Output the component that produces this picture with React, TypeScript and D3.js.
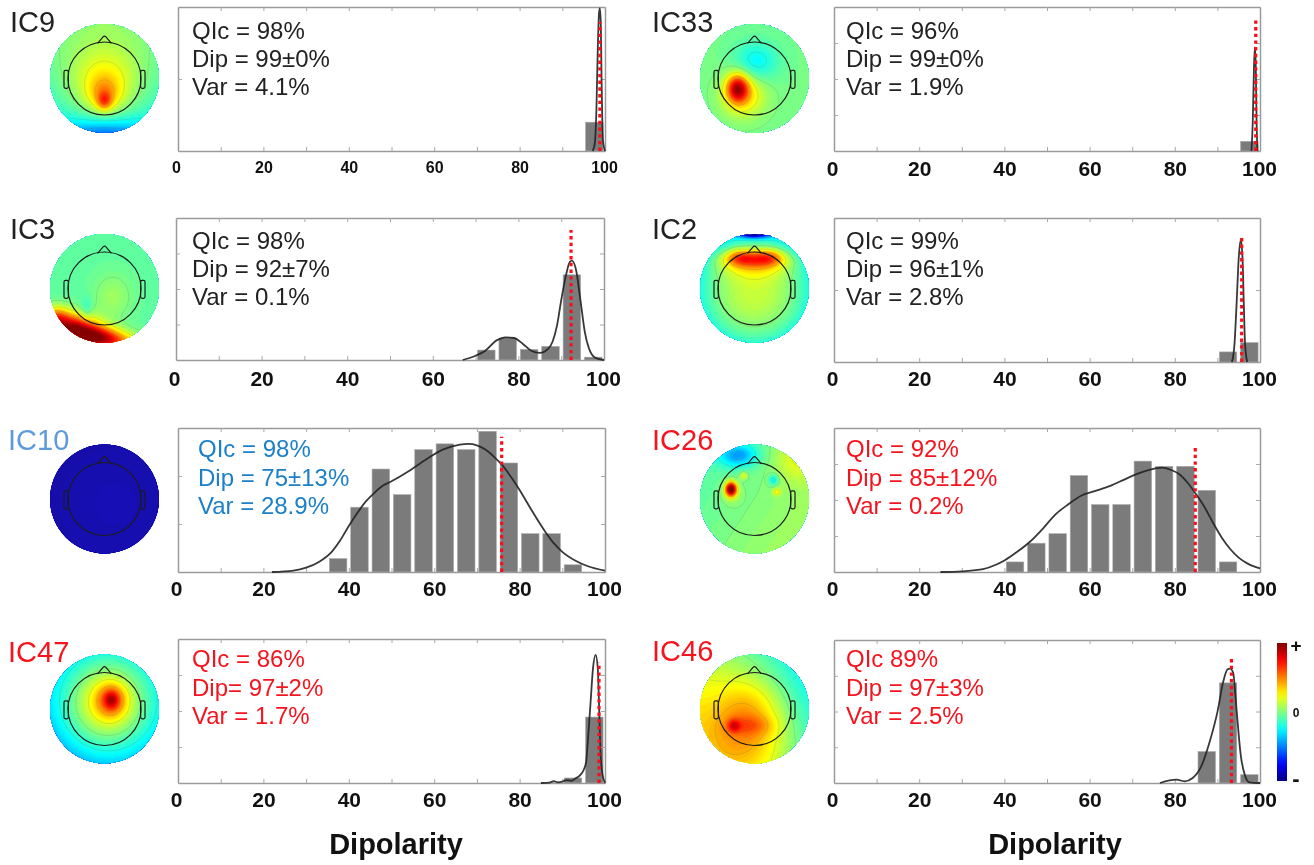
import React, { useEffect, useMemo, useRef } from 'react';
import * as d3 from 'd3';

// ---------- values ----------
// heights are fractions of the panel height, bins are 5 wide
const ic9Bins = [95];
const ic9Heights = [0.2];
const ic9CurveX = [97.1, 97.6, 98, 98.3, 98.6, 98.8, 99, 99.2, 99.5, 100];
const ic9CurveY = [0, 0.05, 0.3, 0.7, 0.96, 0.99, 0.9, 0.5, 0.08, 0];

const ic33Bins = [95];
const ic33Heights = [0.067];
const ic33CurveX = [98, 98.3, 98.6, 98.8, 99, 99.2, 99.4];
const ic33CurveY = [0, 0.2, 0.6, 0.72, 0.6, 0.2, 0];

const ic3Bins = [70, 75, 80, 85, 90, 95];
const ic3Heights = [0.07, 0.155, 0.075, 0.096, 0.6, 0.02];
const ic3CurveX = [67, 70, 72, 75, 77, 79, 81, 83, 85, 87, 88, 89, 90, 91, 92, 92.5, 93.5, 94.5, 95.5, 96.5, 98, 100];
const ic3CurveY = [0, 0.03, 0.06, 0.14, 0.16, 0.155, 0.115, 0.065, 0.05, 0.08, 0.13, 0.24, 0.42, 0.58, 0.69, 0.7, 0.63, 0.42, 0.2, 0.08, 0.015, 0];

const ic2Bins = [90, 95];
const ic2Heights = [0.07, 0.135];
const ic2CurveX = [93.4, 94, 94.5, 95, 95.5, 95.9, 96.2, 96.5, 97];
const ic2CurveY = [0, 0.12, 0.4, 0.72, 0.85, 0.72, 0.4, 0.12, 0];

const ic10Bins = [35, 40, 45, 50, 55, 60, 65, 70, 75, 80, 85, 90];
const ic10Heights = [0.093, 0.45, 0.715, 0.537, 0.85, 0.89, 0.85, 0.977, 0.757, 0.266, 0.266, 0.05];
const ic10CurveX = [22, 27, 30, 33, 36, 38, 40, 42, 44, 46, 48, 50, 54, 58, 62, 66, 68, 70, 72, 74, 76, 78, 80, 83, 86, 88, 90, 93, 96, 100];
const ic10CurveY = [0, 0.01, 0.03, 0.07, 0.14, 0.22, 0.32, 0.41, 0.49, 0.55, 0.6, 0.63, 0.7, 0.78, 0.85, 0.885, 0.89, 0.88, 0.85, 0.8, 0.74, 0.66, 0.57, 0.42, 0.28, 0.2, 0.14, 0.08, 0.04, 0.01];

const ic26Bins = [40, 45, 50, 55, 60, 65, 70, 75, 80, 85, 90];
const ic26Heights = [0.07, 0.2, 0.266, 0.67, 0.468, 0.468, 0.77, 0.734, 0.734, 0.567, 0.07];
const ic26CurveX = [25, 30, 35, 38, 40, 43, 46, 49, 52, 55, 58, 61, 65, 68, 71, 74, 77, 79, 81, 83, 85, 87, 89, 91, 93, 95, 97, 100];
const ic26CurveY = [0, 0.005, 0.02, 0.05, 0.08, 0.14, 0.21, 0.3, 0.4, 0.47, 0.53, 0.56, 0.6, 0.64, 0.68, 0.71, 0.725, 0.71, 0.68, 0.62, 0.54, 0.45, 0.34, 0.24, 0.16, 0.1, 0.06, 0.025];

const ic47Bins = [90, 95];
const ic47Heights = [0.035, 0.458];
const ic47CurveX = [85, 87, 88, 89, 90, 91, 92, 93, 94, 95, 95.6, 96, 96.6, 97.2, 97.8, 98.3, 98.6, 98.9, 99.3, 100];
const ic47CurveY = [0, 0.003, 0.012, 0.005, 0.01, 0.02, 0.015, 0.03, 0.05, 0.09, 0.15, 0.3, 0.55, 0.8, 0.89, 0.8, 0.55, 0.25, 0.08, 0];

const ic46Bins = [85, 90, 95];
const ic46Heights = [0.22, 0.7, 0.058];
const ic46CurveX = [76.5, 80.4, 82.3, 84.2, 86.2, 88.1, 90.1, 91.3, 92.4, 93, 93.7, 94.5, 95.5, 96.5, 97.5, 100];
const ic46CurveY = [0, 0.023, 0.012, 0.035, 0.116, 0.28, 0.51, 0.7, 0.795, 0.8, 0.77, 0.51, 0.19, 0.05, 0.005, 0];

const names = ['IC9', 'IC33', 'IC3', 'IC2', 'IC10', 'IC26', 'IC47', 'IC46'];
const qic = ['QIc = 98%', 'QIc = 96%', 'QIc = 98%', 'QIc = 99%', 'QIc = 98%', 'QIc = 92%', 'QIc = 86%', 'QIc 89%'];
const dip = ['Dip = 99±0%', 'Dip = 99±0%', 'Dip = 92±7%', 'Dip = 96±1%', 'Dip = 75±13%', 'Dip = 85±12%', 'Dip= 97±2%', 'Dip = 97±3%'];
const vars = ['Var = 4.1%', 'Var = 1.9%', 'Var = 0.1%', 'Var = 2.8%', 'Var = 28.9%', 'Var = 0.2%', 'Var = 1.7%', 'Var = 2.5%'];
// where the red dotted line stands and how high it goes
const dipX = [98.8, 99, 92.3, 95.7, 75.8, 84.8, 98.6, 93.3];
const dipTop = [0.896, 0.907, 0.915, 0.88, 0.94, 0.877, 0.838, 0.884];

const xTicks = [0, 10, 20, 30, 40, 50, 60, 70, 80, 90, 100];
const yTicksHalf = [0.5];
const yTicksThird = [1 / 3, 2 / 3];
const yTicksQuarter = [0.25, 0.5, 0.75];

// scalp maps: base level, left-right slope, front-back slope, radial term
const topoBase = [
  [0.49, 0, -0.06, -0.03],
  [0.49, 0, 0, 0],
  [0.47, 0, 0, 0],
  [0.57, 0, 0.02, -0.17],
  [0.06, 0, 0, 0],
  [0.5, 0.03, 0.02, 0],
  [0.49, 0.02, -0.04, -0.13],
  [0.52, -0.11, 0.06, 0],
];
// and bumps on top: x, y, spread x, spread y, height
const topoBumps = [
  [[0, 1.12, 0.6, 0.25, -0.2], [0, 0.1, 0.42, 0.42, 0.15], [0, 0.3, 0.2, 0.22, 0.14], [0, 0.42, 0.09, 0.11, 0.16]],
  [[-0.2, 0.3, 0.28, 0.28, 0.17], [-0.31, 0.18, 0.14, 0.18, 0.36], [0.03, -0.3, 0.28, 0.26, -0.12]],
  [[-0.55, 0.78, 0.3, 0.2, 0.52], [-0.9, 0.55, 0.18, 0.15, 0.28], [-0.1, 0.9, 0.28, 0.14, 0.35], [0.3, 1.0, 0.3, 0.13, 0.2], [-0.33, 0.4, 0.08, 0.16, -0.07], [0.15, 0.15, 0.25, 0.3, 0.06]],
  [[0, -1.02, 0.2, 0.06, -0.5], [0, -0.55, 0.38, 0.12, 0.26], [-0.3, -0.58, 0.15, 0.1, 0.1], [0.3, -0.58, 0.15, 0.1, 0.1], [0, -0.42, 0.5, 0.18, 0.1]],
  [[0.2, 0.1, 0.5, 0.5, 0.02]],
  [[-0.3, -0.8, 0.25, 0.15, -0.2], [0.8, -0.75, 0.3, 0.3, 0.1], [-0.43, -0.18, 0.07, 0.09, 0.5], [-0.43, -0.13, 0.12, 0.14, 0.08], [0.35, -0.35, 0.06, 0.07, -0.14], [0.41, -0.13, 0.05, 0.05, 0.13], [-0.2, -0.43, 0.05, 0.05, 0.12]],
  [[0.05, -0.1, 0.38, 0.4, 0.17], [0.13, -0.17, 0.18, 0.2, 0.2], [0.13, -0.17, 0.08, 0.1, 0.12]],
  [[-0.1, 0.22, 0.45, 0.55, 0.2], [-0.38, 0.31, 0.08, 0.08, 0.15], [-0.05, 0.3, 0.3, 0.12, 0.07]],
];
const contourLevels = [0.3, 0.4, 0.5, 0.6, 0.7, 0.8, 0.9];

// ---------- layout ----------
const black = '#222222';
const red = '#f5141e';
const blue = '#1c80c8';
const layouts = [
  { x0: 178, x1: 605, y0: 7, y1: 151, hx: 104.5, hy: 78.5, lx: 10, ly: 32, sx: 192, sy: [39, 67, 95], tf: 16, tb: 173, col: black, lab: black, yt: yTicksHalf },
  { x0: 834, x1: 1260, y0: 7, y1: 151, hx: 754.5, hy: 78.5, lx: 652, ly: 32, sx: 846, sy: [39, 67, 95], tf: 21, tb: 176, col: black, lab: black, yt: yTicksQuarter },
  { x0: 176, x1: 604, y0: 218, y1: 360, hx: 104.5, hy: 288.5, lx: 10, ly: 239, sx: 192, sy: [249, 277, 305], tf: 21, tb: 386, col: black, lab: black, yt: yTicksQuarter },
  { x0: 834, x1: 1260, y0: 218, y1: 362, hx: 754.5, hy: 288.5, lx: 652, ly: 239, sx: 846, sy: [249, 277, 305], tf: 21, tb: 386, col: black, lab: black, yt: yTicksHalf },
  { x0: 178, x1: 605, y0: 428, y1: 572, hx: 104.5, hy: 499, lx: 8, ly: 450, sx: 198, sy: [457, 486, 514], tf: 21, tb: 596, col: blue, lab: '#5f9bdc', yt: yTicksThird },
  { x0: 834, x1: 1260, y0: 428, y1: 572, hx: 754.5, hy: 499, lx: 652, ly: 450, sx: 846, sy: [457, 486, 514], tf: 21, tb: 596, col: red, lab: red, yt: yTicksQuarter },
  { x0: 178, x1: 605, y0: 639, y1: 783, hx: 104.5, hy: 709, lx: 8, ly: 662, sx: 192, sy: [667, 696, 724], tf: 21, tb: 807, col: red, lab: red, yt: yTicksQuarter },
  { x0: 834, x1: 1260, y0: 640, y1: 783, hx: 754.5, hy: 709, lx: 652, ly: 661, sx: 846, sy: [667, 696, 724], tf: 21, tb: 807, col: red, lab: red, yt: yTicksQuarter },
];
const series = [
  { bins: ic9Bins, heights: ic9Heights, cx: ic9CurveX, cy: ic9CurveY },
  { bins: ic33Bins, heights: ic33Heights, cx: ic33CurveX, cy: ic33CurveY },
  { bins: ic3Bins, heights: ic3Heights, cx: ic3CurveX, cy: ic3CurveY },
  { bins: ic2Bins, heights: ic2Heights, cx: ic2CurveX, cy: ic2CurveY },
  { bins: ic10Bins, heights: ic10Heights, cx: ic10CurveX, cy: ic10CurveY },
  { bins: ic26Bins, heights: ic26Heights, cx: ic26CurveX, cy: ic26CurveY },
  { bins: ic47Bins, heights: ic47Heights, cx: ic47CurveX, cy: ic47CurveY },
  { bins: ic46Bins, heights: ic46Heights, cx: ic46CurveX, cy: ic46CurveY },
];

const sans = '"Liberation Sans", Arial, sans-serif';
const DISC_R = 54.5;
const HEAD_R = 36.5;
const GRID = 81;

// matlab style jet colormap
function jet(t: number) {
  const c = (v: number) => Math.round(255 * Math.max(0, Math.min(1, v)));
  return `rgb(${c(1.5 - Math.abs(4 * t - 3))},${c(1.5 - Math.abs(4 * t - 2))},${c(1.5 - Math.abs(4 * t - 1))})`;
}

function Topo({ i }: { i: number }) {
  const { hx, hy } = layouts[i];
  const [b0, bu, bv, bq] = topoBase[i];
  const bumps = topoBumps[i];

  const grid = useMemo(() => {
    const vals = new Array(GRID * GRID);
    for (let r = 0; r < GRID; r++) {
      for (let c = 0; c < GRID; c++) {
        const u = ((c + 0.5) / GRID) * 2.1 - 1.05;
        const v = ((r + 0.5) / GRID) * 2.1 - 1.05;
        let t = b0 + bu * u + bv * v + bq * (u * u + v * v);
        bumps.forEach(([x, y, sx, sy, a]) => {
          t += a * Math.exp(-((u - x) ** 2) / (2 * sx * sx) - ((v - y) ** 2) / (2 * sy * sy));
        });
        vals[r * GRID + c] = Math.max(0.005, Math.min(0.995, t));
      }
    }
    return vals;
  }, [i]);

  const steps = d3.range(0, 1, 0.0125);
  const fills = d3.contours().size([GRID, GRID]).thresholds(steps)(grid);
  const lines = d3.contours().size([GRID, GRID]).thresholds(contourLevels)(grid);
  const path = d3.geoPath();
  const k = (DISC_R * 2.1) / GRID;
  const head = d3.scaleLinear().domain([0, 1]).range([0, HEAD_R]);

  return (
    <g>
      <clipPath id={`disc${i}`}>
        <circle cx={hx} cy={hy} r={DISC_R} />
      </clipPath>
      <g clipPath={`url(#disc${i})`}>
        <g transform={`translate(${hx - DISC_R * 1.05},${hy - DISC_R * 1.05}) scale(${k})`}>
          {fills.map((f, j) => (
            <path key={j} d={path(f) || ''} fill={jet(f.value + 0.006)} />
          ))}
          {i !== 4 && lines.map((f, j) => (
            <path key={j} d={path(f) || ''} fill="none" stroke="#555" strokeOpacity={0.22} strokeWidth={0.7 / k} />
          ))}
        </g>
        {i === 4 && <circle cx={hx} cy={hy} r={DISC_R} fill="#2a1a9c" fillOpacity={0.55} />}
      </g>
      <g transform={`translate(${hx},${hy})`} fill="none" stroke="#1c1c1c" strokeWidth={1.2}>
        <circle r={head(1)} />
        <path d={`M${head(-0.19)},${head(-0.96)} L${head(-0.04)},${head(-1.14)} Q0,${head(-1.18)} ${head(0.04)},${head(-1.14)} L${head(0.19)},${head(-0.96)}`} />
        {[-1, 1].map((s) => (
          <rect key={s} x={s < 0 ? head(-1.11) : head(0.99)} y={head(-0.22)} width={head(0.12)} height={head(0.49)} rx={1.5} />
        ))}
      </g>
    </g>
  );
}

function Panel({ i }: { i: number }) {
  const ref = useRef<SVGGElement>(null);
  const { x0, x1, y0, y1, tf, tb, yt } = layouts[i];
  const { bins, heights, cx, cy } = series[i];

  const xScale = d3.scaleLinear().domain([0, 100]).range([x0, x1]);
  const yScale = d3.scaleLinear().domain([0, 1]).range([y1, y0]);
  const curve = d3.line<number>()
    .x((d) => xScale(d))
    .y((_, j) => yScale(cy[j]))
    .curve(d3.curveMonotoneX);

  useEffect(() => {
    const g = d3.select(ref.current);
    g.selectAll('*').remove();
    const fmt = (d: any) => (d % 20 === 0 ? String(d) : '');

    const bottom = g.append('g').attr('transform', `translate(0,${y1})`)
      .call(d3.axisBottom(xScale).tickValues(xTicks).tickSizeInner(-4).tickSizeOuter(0).tickFormat(fmt));
    g.append('g').attr('transform', `translate(0,${y0})`)
      .call(d3.axisTop(xScale).tickValues(xTicks.slice(1, -1)).tickSizeInner(-4).tickSizeOuter(0).tickFormat(() => ''));
    g.append('g').attr('transform', `translate(${x0},0)`)
      .call(d3.axisLeft(yScale).tickValues(yt).tickSizeInner(-4).tickSizeOuter(0).tickFormat(() => ''));
    g.append('g').attr('transform', `translate(${x1},0)`)
      .call(d3.axisRight(yScale).tickValues(yt).tickSizeInner(-4).tickSizeOuter(0).tickFormat(() => ''));

    g.selectAll('.domain').attr('stroke', '#9a9a9a').attr('stroke-width', 1.5);
    g.selectAll('.tick line').attr('stroke', '#a8a8a8').attr('stroke-width', 1);
    bottom.selectAll('.tick text')
      .attr('y', tb - y1)
      .attr('dy', 0)
      .attr('dx', (d: any) => (d === 0 ? -2 : d === 100 ? -1 : 0))
      .attr('fill', '#111')
      .style('font-family', sans)
      .style('font-weight', 'bold')
      .style('font-size', `${tf}px`);
  }, [i]);

  return (
    <g>
      {bins.map((b, j) => (
        <rect
          key={b}
          x={xScale(b + 0.45)}
          width={xScale(b + 4.55) - xScale(b + 0.45)}
          y={yScale(heights[j])}
          height={yScale(0) - yScale(heights[j])}
          fill="#7b7b7b"
          stroke="#a9a9a9"
          strokeWidth={0.6}
        />
      ))}
      <g ref={ref} />
      <path d={curve(cx) || ''} fill="none" stroke="#222" strokeWidth={1.8} strokeOpacity={0.9} />
      <line
        x1={xScale(dipX[i])}
        x2={xScale(dipX[i])}
        y1={yScale(0)}
        y2={yScale(dipTop[i])}
        stroke="#fb0d1b"
        strokeWidth={3.2}
        strokeDasharray="3.4 3.3"
      />
    </g>
  );
}

function ColorBar() {
  const stops = d3.range(0, 1.001, 0.05);
  const yBar = d3.scaleLinear().domain([0, 1]).range([781, 643]);
  return (
    <g fontFamily={sans} fontWeight="bold" fill="#111" textAnchor="middle">
      <linearGradient id="jetBar" x1="0" y1="1" x2="0" y2="0">
        {stops.map((s) => (
          <stop key={s} offset={s} stopColor={jet(s)} />
        ))}
      </linearGradient>
      <rect x={1277} y={yBar(1)} width={10} height={yBar(0) - yBar(1)} fill="url(#jetBar)" />
      <text x={1296} y={652} fontSize={19}>+</text>
      <text x={1296} y={717} fontSize={12}>0</text>
      <text x={1296} y={786} fontSize={22}>-</text>
    </g>
  );
}

export default function App() {
  return (
    <svg
      width={1314}
      height={865}
      style={{ position: 'absolute', left: 0, top: 0, display: 'block', background: '#fff', filter: 'blur(0.5px)' }}
    >
      {names.map((name, i) => {
        const l = layouts[i];
        return (
          <g key={name}>
            <Topo i={i} />
            <Panel i={i} />
            <text x={l.lx} y={l.ly} fontFamily={sans} fontSize={29} fill={l.lab}>{name}</text>
            <g fontFamily={sans} fontSize={24} fill={l.col}>
              <text x={l.sx} y={l.sy[0]}>{qic[i]}</text>
              <text x={l.sx} y={l.sy[1]}>{dip[i]}</text>
              <text x={l.sx} y={l.sy[2]}>{vars[i]}</text>
            </g>
          </g>
        );
      })}
      <ColorBar />
      <g fontFamily={sans} fontWeight="bold" fontSize={29} fill="#111" textAnchor="middle">
        <text x={396} y={854}>Dipolarity</text>
        <text x={1055} y={854}>Dipolarity</text>
      </g>
    </svg>
  );
}
